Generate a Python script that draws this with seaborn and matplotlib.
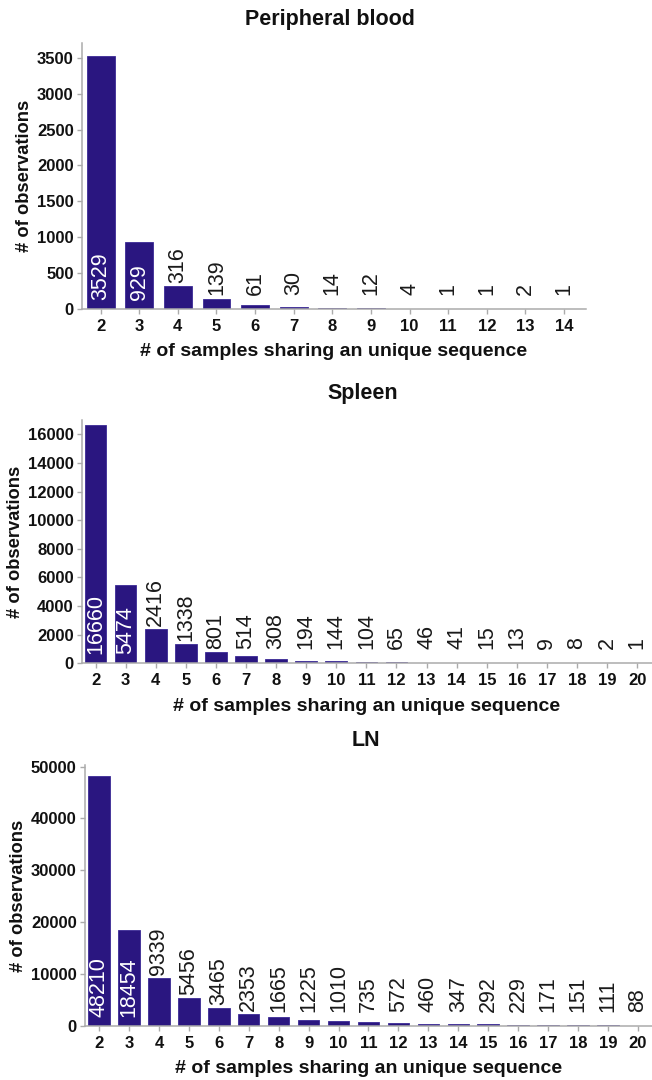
import matplotlib
matplotlib.use("Agg")
import matplotlib.pyplot as plt
import seaborn as sns
import pandas as pd

# Number of samples sharing a unique sequence, per tissue
pb_samples = [str(n) for n in range(2, 15)]
pb_counts = [3529, 929, 316, 139, 61, 30, 14, 12, 4, 1, 1, 2, 1]

spleen_samples = [str(n) for n in range(2, 21)]
spleen_counts = [16660, 5474, 2416, 1338, 801, 514, 308, 194, 144, 104,
                 65, 46, 41, 15, 13, 9, 8, 2, 1]

ln_samples = [str(n) for n in range(2, 21)]
ln_counts = [48210, 18454, 9339, 5456, 3465, 2353, 1665, 1225, 1010, 735,
             572, 460, 347, 292, 229, 171, 151, 111, 88]

titles = ["Peripheral blood", "Spleen", "LN"]
y_ticks = [list(range(0, 3501, 500)), list(range(0, 16001, 2000)),
           list(range(0, 50001, 10000))]

sns.set_theme(style="white")
plt.rcParams["font.family"] = ["Liberation Sans", "DejaVu Sans"]

BAR = "#2a1680"
GREY = "#ababab"
INK = "#111111"
DPI = 100

fig = plt.figure(figsize=(6.52, 10.8), dpi=DPI)
W, H = 652, 1080


def px_axes(left, top, right, bottom):
    return fig.add_axes([left / W, 1 - bottom / H, (right - left) / W, (bottom - top) / H])


panels = [
    (pb_samples, pb_counts, px_axes(82, 43, 586, 309), (-0.482, 12.57), 3705, (330, 20)),
    (spleen_samples, spleen_counts, px_axes(82, 419.5, 652, 663.3), (-0.45, 18.49), 17040, (363, 394)),
    (ln_samples, ln_counts, px_axes(85, 765, 652, 1026), (-0.468, 18.47), 50300, (366, 741)),
]

renderer = fig.canvas.get_renderer()

for (cats, vals, ax, xlim, ytop, tpos), title, ticks in zip(panels, titles, y_ticks):
    df = pd.DataFrame({"samples": cats, "observations": vals})
    sns.barplot(data=df, x="samples", y="observations", order=cats, ax=ax,
                color=BAR, saturation=1, width=0.72, edgecolor="#3b2a96",
                linewidth=0.6)
    ax.set_xlim(*xlim)
    ax.set_ylim(0, ytop)
    ax.set_yticks(ticks)
    ax.set_yticklabels([str(t) for t in ticks])

    for side in ("top", "right"):
        ax.spines[side].set_visible(False)
    for side in ("left", "bottom"):
        ax.spines[side].set_color(GREY)
        ax.spines[side].set_linewidth(1.1)
    ax.tick_params(axis="both", which="major", direction="out", length=3.8,
                   width=1.0, color=GREY, labelsize=12, labelcolor=INK,
                   bottom=True, left=True)
    ax.tick_params(axis="x", pad=3.2)
    ax.tick_params(axis="y", pad=2.2)
    for lab in ax.get_xticklabels() + ax.get_yticklabels():
        lab.set_fontweight("bold")

    ax.set_xlabel("# of samples sharing an unique sequence", fontsize=14,
                  fontweight="bold", color=INK, labelpad=7)
    ax.set_ylabel("# of observations", fontsize=13.2, fontweight="bold",
                  color=INK, labelpad=3)
    fig.text(tpos[0] / W, 1 - tpos[1] / H, title, fontsize=15.5, fontweight="bold",
             ha="center", va="center", color=INK)

    # Value labels: inside the bar when it fits, otherwise above it
    px_per_pt = DPI / 72.0
    for i, v in enumerate(vals):
        zero_px = ax.transData.transform((i, 0))[1]
        bar_px = ax.transData.transform((i, v))[1] - zero_px
        t = ax.annotate(str(v), xy=(i, 0), xytext=(0, 9 / px_per_pt),
                        textcoords="offset points", rotation=90,
                        ha="center", va="bottom", fontsize=15.5,
                        color="white")
        length_px = t.get_window_extent(renderer).height
        if bar_px < length_px + 18:
            off = max(bar_px + 3, 14)
            t.xyann = (0, off / px_per_pt)
            t.set_color("#1a1a1a")

fig.savefig("out.png", dpi=DPI)
